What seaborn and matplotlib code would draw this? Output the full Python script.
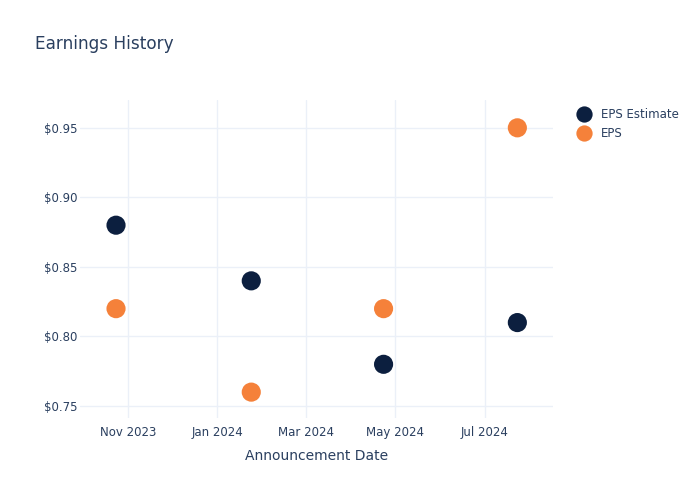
import pandas as pd
import matplotlib.pyplot as plt
import matplotlib.dates as mdates
import seaborn as sns

# Dados
datas = ['2023-10-24', '2024-01-24', '2024-04-23', '2024-07-23']
eps_estimado = [0.88, 0.84, 0.78, 0.81]
eps_real = [0.82, 0.76, 0.82, 0.95]
series = ['EPS Estimate', 'EPS']
cores = ['#0c1f3f', '#f5813a']
ticks_x = ['2023-11-01', '2024-01-01', '2024-03-01', '2024-05-01', '2024-07-01']
ticks_y = [0.75, 0.80, 0.85, 0.90, 0.95]

sns.set_style("white")
plt.rcParams['font.family'] = ['DejaVu Sans']
texto = '#2a3f5f'

df = pd.DataFrame({
    'data': pd.to_datetime(datas * 2),
    'valor': eps_estimado + eps_real,
    'serie': [series[0]] * len(datas) + [series[1]] * len(datas),
})

fig = plt.figure(figsize=(7, 5), dpi=100)
ax = fig.add_axes([80 / 700, 82 / 500, 473 / 700, 318 / 500])

sns.scatterplot(data=df, x='data', y='valor', hue='serie', hue_order=series,
                palette=cores, s=190, linewidth=0, ax=ax, zorder=3)

ax.set_xlim(pd.Timestamp('2023-09-29 12:00'), pd.Timestamp('2024-08-16 06:00'))
ax.set_ylim(0.7414, 0.970)
ax.set_xticks(pd.to_datetime(ticks_x))
ax.xaxis.set_major_formatter(mdates.DateFormatter('%b %Y'))
ax.set_yticks(ticks_y)
ax.set_yticklabels([f'${v:.2f}' for v in ticks_y])

ax.grid(True, color='#ebf0f8', linewidth=1)
ax.set_axisbelow(True)
for s in ax.spines.values():
    s.set_visible(False)
ax.tick_params(axis='both', length=0, labelsize=8.5, labelcolor=texto)
ax.tick_params(axis='x', pad=6)
ax.tick_params(axis='y', pad=2)

ax.set_xlabel('Announcement Date', fontsize=10, color=texto, labelpad=7)
ax.set_ylabel('')

fig.text(35 / 700, 1 - 44 / 500, 'Earnings History', fontsize=12.2, color=texto, va='center')

handles, labels = ax.get_legend_handles_labels()
ax.get_legend().remove()
fig.legend(handles, labels, loc='upper left', bbox_to_anchor=(567 / 700, 1 - 103 / 500),
           frameon=False, fontsize=8.5, labelcolor=texto, markerscale=0.85,
           handletextpad=0.5, labelspacing=0.55, borderaxespad=0)

fig.savefig('out.png', dpi=100)
